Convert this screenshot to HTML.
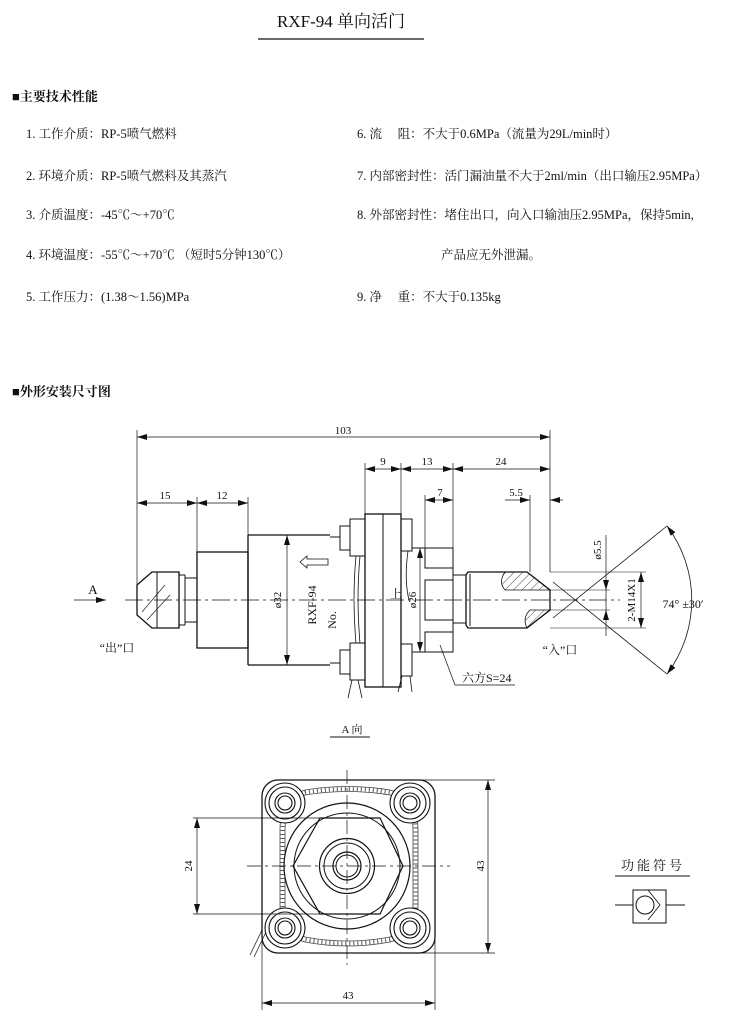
<!DOCTYPE html>
<html><head><meta charset="utf-8"><style>
html,body{margin:0;padding:0;background:#fff;}
svg{display:block;}
text{font-family:"Liberation Serif","Noto Serif CJK SC",serif;fill:#111;}
</style></head><body>
<svg width="735" height="1016" viewBox="0 0 735 1016" xmlns="http://www.w3.org/2000/svg">
<defs>
<marker id="ar" viewBox="0 0 10 6" refX="10" refY="3" markerWidth="10" markerHeight="6" orient="auto-start-reverse" markerUnits="userSpaceOnUse"><path d="M0,0L10,3L0,6z" fill="#111"/></marker>
<pattern id="hat" width="6" height="6" patternUnits="userSpaceOnUse" patternTransform="rotate(45)"><line x1="0" y1="0" x2="0" y2="6" stroke="#222" stroke-width="0.8"/></pattern>
</defs>
<g font-size="12.5">
<text x="341" y="27" font-size="17" text-anchor="middle">RXF-94 单向活门</text>
<line x1="258" y1="39" x2="424" y2="39" stroke="#111" stroke-width="1.2"/>
<text x="12" y="101" font-size="13" font-weight="bold" font-family="Liberation Sans,Noto Sans CJK SC,sans-serif">■主要技术性能</text>
<text x="26" y="138">1. 工作介质：RP-5喷气燃料</text>
<text x="26" y="180">2. 环境介质：RP-5喷气燃料及其蒸汽</text>
<text x="26" y="219">3. 介质温度：-45℃～+70℃</text>
<text x="26" y="259">4. 环境温度：-55℃～+70℃ （短时5分钟130℃）</text>
<text x="26" y="301">5. 工作压力：(1.38～1.56)MPa</text>
<text x="357" y="138">6. 流　 阻：不大于0.6MPa（流量为29L/min时）</text>
<text x="357" y="180">7. 内部密封性：活门漏油量不大于2ml/min（出口输压2.95MPa）</text>
<text x="357" y="219">8. 外部密封性：堵住出口，向入口输油压2.95MPa，保持5min,</text>
<text x="441" y="259">产品应无外泄漏。</text>
<text x="357" y="301">9. 净　 重：不大于0.135kg</text>
<text x="12" y="396" font-size="13" font-weight="bold" font-family="Liberation Sans,Noto Sans CJK SC,sans-serif">■外形安装尺寸图</text>
</g>
<g stroke="#111" stroke-width="1" fill="none">
<line x1="125" y1="600" x2="620" y2="600" stroke-dasharray="18,4,3,4" stroke-width="0.8"/>
<!-- outlet nose -->
<path d="M137,585 L152,572 L179,572 L179,628 L152,628 L137,615 Z" stroke-width="1.3"/>
<line x1="157" y1="572" x2="157" y2="628"/>
<line x1="179" y1="575" x2="185" y2="575"/><line x1="185" y1="575" x2="185" y2="625"/><line x1="179" y1="625" x2="185" y2="625"/>
<line x1="185" y1="578" x2="197" y2="578"/><line x1="185" y1="622" x2="197" y2="622"/>
<line x1="142" y1="612" x2="165" y2="585" stroke-width="0.6"/><line x1="147" y1="620" x2="170" y2="595" stroke-width="0.6"/>
<rect x="197" y="552" width="51" height="96" stroke-width="1.3"/>
<path d="M248,535 L330,535 M248,665 L330,665 M248,535 L248,665" stroke-width="1.3"/>
<rect x="365" y="514" width="36" height="173" stroke-width="1.3"/>
<line x1="383" y1="514" x2="383" y2="687"/>
<rect x="350" y="519" width="15" height="37"/><rect x="340" y="526" width="10" height="24"/>
<rect x="350" y="643" width="15" height="37"/><rect x="340" y="650" width="10" height="24"/>
<line x1="330" y1="537" x2="340" y2="537"/><line x1="330" y1="663" x2="340" y2="663"/>
<rect x="401" y="519" width="11" height="32"/><rect x="401" y="644" width="11" height="32"/>
<path d="M356,556 Q352,600 356,643 M360,556 Q356,600 360,643" stroke-width="0.8"/>
<path d="M352,680 L348,698 M358,680 L362,698 M402,676 L398,692 M410,676 L412,692" stroke-width="0.8"/>
<path d="M408,551 Q404,580 409,600" stroke-width="0.8"/>
<rect x="425" y="548" width="28" height="20"/><rect x="425" y="580" width="28" height="40"/><rect x="425" y="632" width="28" height="20"/>
<line x1="412" y1="548" x2="425" y2="548"/><line x1="412" y1="652" x2="453" y2="652"/>
<line x1="453" y1="548" x2="453" y2="652"/>
<!-- inlet -->
<rect x="453" y="575" width="13" height="48"/>
<path d="M505,572 L527,572 L550,590 L505,590 Q498,582 505,572 Z" fill="url(#hat)" stroke-width="0.8"/>
<path d="M527,628 L550,610 L530,610 Q522,618 527,628 Z" fill="url(#hat)" stroke-width="0.8"/>
<path d="M468,572 L527,572 L550,590 L550,610 L527,628 L468,628 L466,625 L466,575 Z" stroke-width="1.3"/>
<line x1="470" y1="574" x2="470" y2="626"/>
<!-- cone lines & arc -->
<line x1="667" y1="526" x2="553" y2="618" stroke-width="0.8"/>
<line x1="667" y1="674" x2="553" y2="582" stroke-width="0.8"/>
<path d="M667,526 A123,123 0 0 1 667,674" stroke-width="0.8" marker-start="url(#ar)" marker-end="url(#ar)"/>
<!-- dims top -->
<line x1="137" y1="430" x2="137" y2="585" stroke-width="0.7"/>
<line x1="550" y1="430" x2="550" y2="572" stroke-width="0.7"/>
<line x1="137" y1="437" x2="550" y2="437" stroke-width="0.7" marker-start="url(#ar)" marker-end="url(#ar)"/>
<line x1="197" y1="497" x2="197" y2="552" stroke-width="0.7"/>
<line x1="248" y1="497" x2="248" y2="535" stroke-width="0.7"/>
<line x1="137" y1="503" x2="197" y2="503" stroke-width="0.7" marker-start="url(#ar)" marker-end="url(#ar)"/>
<line x1="197" y1="503" x2="248" y2="503" stroke-width="0.7" marker-start="url(#ar)" marker-end="url(#ar)"/>
<line x1="365" y1="463" x2="365" y2="514" stroke-width="0.7"/>
<line x1="401" y1="463" x2="401" y2="514" stroke-width="0.7"/>
<line x1="453" y1="463" x2="453" y2="548" stroke-width="0.7"/>
<line x1="425" y1="495" x2="425" y2="548" stroke-width="0.7"/>
<line x1="365" y1="469" x2="401" y2="469" stroke-width="0.7" marker-start="url(#ar)" marker-end="url(#ar)"/>
<line x1="401" y1="469" x2="453" y2="469" stroke-width="0.7" marker-start="url(#ar)" marker-end="url(#ar)"/>
<line x1="453" y1="469" x2="550" y2="469" stroke-width="0.7" marker-start="url(#ar)" marker-end="url(#ar)"/>
<line x1="425" y1="500" x2="453" y2="500" stroke-width="0.7" marker-start="url(#ar)" marker-end="url(#ar)"/>
<line x1="530" y1="495" x2="530" y2="572" stroke-width="0.7"/>
<line x1="505" y1="500" x2="530" y2="500" stroke-width="0.7" marker-end="url(#ar)"/>
<line x1="563" y1="500" x2="550" y2="500" stroke-width="0.7" marker-end="url(#ar)"/>
<line x1="287" y1="535" x2="287" y2="665" stroke-width="0.7" marker-start="url(#ar)" marker-end="url(#ar)"/>
<line x1="420" y1="548" x2="420" y2="652" stroke-width="0.7" marker-start="url(#ar)" marker-end="url(#ar)"/>
<line x1="606" y1="535" x2="606" y2="636" stroke-width="0.7"/>
<line x1="606" y1="580" x2="606" y2="590" stroke-width="0.7" marker-end="url(#ar)"/>
<line x1="606" y1="620" x2="606" y2="610" stroke-width="0.7" marker-end="url(#ar)"/>
<line x1="550" y1="590" x2="610" y2="590" stroke-width="0.6"/><line x1="550" y1="610" x2="610" y2="610" stroke-width="0.6"/>
<line x1="550" y1="572" x2="646" y2="572" stroke-width="0.6"/><line x1="550" y1="628" x2="646" y2="628" stroke-width="0.6"/>
<line x1="641" y1="572" x2="641" y2="628" stroke-width="0.7" marker-start="url(#ar)" marker-end="url(#ar)"/>
<line x1="74" y1="600" x2="106" y2="600" stroke-width="0.8" marker-end="url(#ar)"/>
<path d="M300,562 L307,556 L307,559 L328,559 L328,565 L307,565 L307,568 Z" stroke-width="0.8"/>
<path d="M440,645 L455,685 L515,685" stroke-width="0.7"/>
<line x1="330" y1="737" x2="370" y2="737" stroke-width="1"/>
<!-- bottom view -->
<rect x="262" y="780" width="173" height="173" rx="16" stroke-width="1.3"/>
<path d="M305,790 Q347,783 390,790 Q418,798 418,830 L418,905 Q418,935 390,942 Q347,950 305,942 Q280,935 280,905 L280,830 Q280,798 305,790 Z" stroke="#444" stroke-width="0.8"/>
<path d="M305,795 Q347,788 390,795 Q413,802 413,830 L413,905 Q413,930 390,937 Q347,945 305,937 Q285,930 285,905 L285,830 Q285,802 305,795 Z" stroke="#444" stroke-width="0.8"/>
<path d="M305,792.5 Q347,785.5 390,792.5 Q415.5,800 415.5,830 L415.5,905 Q415.5,932 390,939.5 Q347,947.5 305,939.5 Q282.5,932 282.5,905 L282.5,830 Q282.5,800 305,792.5 Z" stroke="#555" stroke-width="4" stroke-dasharray="1,3"/>
<circle cx="347" cy="866" r="63" stroke-width="1.2" fill="#fff"/>
<path d="M293,866 L320,818 L380,818 L403,866 L380,914 L320,914 Z" stroke-width="1.2"/>
<circle cx="347" cy="866" r="53"/>
<circle cx="347" cy="866" r="27.5" stroke-width="1.2"/><circle cx="347" cy="866" r="23"/>
<circle cx="347" cy="866" r="14" stroke-width="1.2"/><circle cx="347" cy="866" r="11"/>
<g stroke-width="1.1" fill="#fff">
<circle cx="285" cy="803" r="20"/><circle cx="285" cy="803" r="16"/><circle cx="285" cy="803" r="10"/><circle cx="285" cy="803" r="7"/>
<circle cx="410" cy="803" r="20"/><circle cx="410" cy="803" r="16"/><circle cx="410" cy="803" r="10"/><circle cx="410" cy="803" r="7"/>
<circle cx="285" cy="928" r="20"/><circle cx="285" cy="928" r="16"/><circle cx="285" cy="928" r="10"/><circle cx="285" cy="928" r="7"/>
<circle cx="410" cy="928" r="20"/><circle cx="410" cy="928" r="16"/><circle cx="410" cy="928" r="10"/><circle cx="410" cy="928" r="7"/>
</g>
<line x1="247" y1="866" x2="450" y2="866" stroke-width="0.7" stroke-dasharray="14,4,3,4"/>
<line x1="347" y1="770" x2="347" y2="965" stroke-width="0.7" stroke-dasharray="14,4,3,4"/>
<line x1="193" y1="818" x2="320" y2="818" stroke-width="0.7"/><line x1="193" y1="914" x2="320" y2="914" stroke-width="0.7"/>
<line x1="197" y1="818" x2="197" y2="914" stroke-width="0.7" marker-start="url(#ar)" marker-end="url(#ar)"/>
<line x1="420" y1="780" x2="495" y2="780" stroke-width="0.7"/><line x1="420" y1="953" x2="495" y2="953" stroke-width="0.7"/>
<line x1="488" y1="780" x2="488" y2="953" stroke-width="0.7" marker-start="url(#ar)" marker-end="url(#ar)"/>
<line x1="262" y1="940" x2="262" y2="1010" stroke-width="0.7"/><line x1="435" y1="940" x2="435" y2="1010" stroke-width="0.7"/>
<line x1="262" y1="1003" x2="435" y2="1003" stroke-width="0.7" marker-start="url(#ar)" marker-end="url(#ar)"/>
<path d="M262,930 L250,955 M266,932 L254,957" stroke-width="0.7"/>
<line x1="615" y1="876" x2="690" y2="876"/>
<rect x="633" y="890" width="33" height="33"/>
<line x1="615" y1="905" x2="633" y2="905"/><line x1="666" y1="905" x2="685" y2="905"/>
<circle cx="645" cy="905" r="9"/>
<path d="M648,890 L660,905 L648,920" stroke-width="0.8"/>
</g>
<g font-size="11">
<text x="343" y="434" text-anchor="middle">103</text>
<text x="165" y="499" text-anchor="middle">15</text>
<text x="222" y="499" text-anchor="middle">12</text>
<text x="383" y="465" text-anchor="middle">9</text>
<text x="427" y="465" text-anchor="middle">13</text>
<text x="501" y="465" text-anchor="middle">24</text>
<text x="440" y="496" text-anchor="middle">7</text>
<text x="516" y="496" text-anchor="middle">5.5</text>
<text x="93" y="594" font-size="13" text-anchor="middle">A</text>
<text x="117" y="652" font-size="12" text-anchor="middle">“出”口</text>
<text x="560" y="654" font-size="12" text-anchor="middle">“入”口</text>
<text x="462" y="682" font-size="12">六方S=24</text>
<text x="390" y="598" font-size="12">上</text>
<text transform="translate(281,600) rotate(-90)" text-anchor="middle">ø32</text>
<text transform="translate(316,605) rotate(-90)" text-anchor="middle" font-size="12">RXF-94</text>
<text transform="translate(336,620) rotate(-90)" text-anchor="middle" font-size="12">No.</text>
<text transform="translate(416,600) rotate(-90)" text-anchor="middle">ø26</text>
<text transform="translate(601,550) rotate(-90)" text-anchor="middle">ø5.5</text>
<text transform="translate(635,600) rotate(-90)" text-anchor="middle">2-M14X1</text>
<text x="683" y="608" text-anchor="middle" font-size="12">74° ±30′</text>
<text x="352" y="733" text-anchor="middle" font-size="11">A 向</text>
<text transform="translate(192,866) rotate(-90)" text-anchor="middle">24</text>
<text transform="translate(484,866) rotate(-90)" text-anchor="middle">43</text>
<text x="348" y="999" text-anchor="middle">43</text>
<text x="653" y="870" text-anchor="middle" font-size="13" letter-spacing="3" font-family="Liberation Sans,Noto Sans CJK SC,sans-serif">功能符号</text>
</g>
</svg>
</body></html>
